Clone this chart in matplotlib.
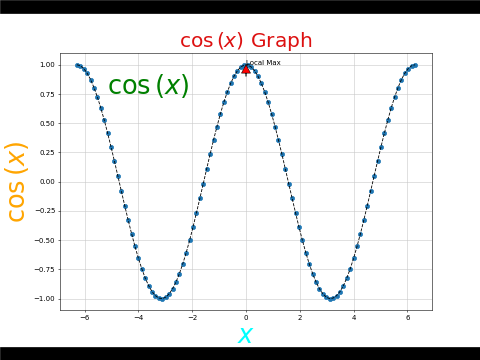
import matplotlib
matplotlib.use("Agg")
import matplotlib.pyplot as plt
from matplotlib.patches import Rectangle

x = [-6.283, -6.156, -6.029, -5.902, -5.775, -5.649, -5.522, -5.395, -5.268, -5.141,
     -5.014, -4.887, -4.760, -4.633, -4.506, -4.379, -4.252, -4.125, -3.998, -3.871,
     -3.745, -3.618, -3.491, -3.364, -3.237, -3.110, -2.983, -2.856, -2.729, -2.602,
     -2.475, -2.348, -2.221, -2.094, -1.967, -1.841, -1.714, -1.587, -1.460, -1.333,
     -1.206, -1.079, -0.952, -0.825, -0.698, -0.571, -0.444, -0.317, -0.190, -0.063,
     0.063, 0.190, 0.317, 0.444, 0.571, 0.698, 0.825, 0.952, 1.079, 1.206,
     1.333, 1.460, 1.587, 1.714, 1.841, 1.967, 2.094, 2.221, 2.348, 2.475,
     2.602, 2.729, 2.856, 2.983, 3.110, 3.237, 3.364, 3.491, 3.618, 3.745,
     3.871, 3.998, 4.125, 4.252, 4.379, 4.506, 4.633, 4.760, 4.887, 5.014,
     5.141, 5.268, 5.395, 5.522, 5.649, 5.775, 5.902, 6.029, 6.156, 6.283]
y = [1.000, 0.992, 0.968, 0.928, 0.874, 0.805, 0.724, 0.631, 0.527, 0.415,
     0.297, 0.174, 0.048, -0.079, -0.205, -0.327, -0.444, -0.554, -0.655, -0.745,
     -0.824, -0.889, -0.940, -0.975, -0.995, -1.000, -0.987, -0.959, -0.916, -0.858,
     -0.786, -0.701, -0.606, -0.500, -0.386, -0.266, -0.142, -0.016, 0.111, 0.236,
     0.357, 0.472, 0.580, 0.679, 0.766, 0.841, 0.903, 0.950, 0.982, 0.998,
     0.998, 0.982, 0.950, 0.903, 0.841, 0.766, 0.679, 0.580, 0.472, 0.357,
     0.236, 0.111, -0.016, -0.142, -0.266, -0.386, -0.500, -0.606, -0.701, -0.786,
     -0.858, -0.916, -0.959, -0.987, -1.000, -0.995, -0.975, -0.940, -0.889, -0.824,
     -0.745, -0.655, -0.554, -0.444, -0.327, -0.205, -0.079, 0.048, 0.174, 0.297,
     0.415, 0.527, 0.631, 0.724, 0.805, 0.874, 0.928, 0.968, 0.992, 1.000]

max_x = 0
max_y = 1
max_label = "Local Max"

fig = plt.figure(figsize=(9.6, 7.2))
fig.subplots_adjust(left=0.125, right=0.9, bottom=0.138, top=0.8525)
ax = fig.add_subplot(111)

ax.plot(x, y, "o", color="#1f77b4", markersize=6)
ax.plot(x, y, "k--", linewidth=1.2)

ax.annotate("", xy=(max_x, max_y), xytext=(max_x, max_y - 0.1),
            arrowprops=dict(facecolor="red", edgecolor="black", width=0.01,
                            headwidth=13, headlength=12, shrink=0, linewidth=0.8))
ax.text(max_x, max_y, max_label, fontsize=10)
ax.text(-5.15, 0.75, r"$\cos\left(x\right)$", fontsize=37, color="green")

ax.set_title(r"$\cos\left(x\right)$ Graph", fontsize=29, color="#dd1111")
ax.set_xlabel(r"$x$", fontsize=37, color="cyan", labelpad=2)
ax.set_ylabel(r"$\cos\left(x\right)$", fontsize=37, color="orange", labelpad=4)
ax.grid(True, color="#c8c8c8")

# letterbox bars
fig.patches.append(Rectangle((0, 0), 1, 13 / 360, transform=fig.transFigure, color="black"))
fig.patches.append(Rectangle((0, 347 / 360), 1, 13 / 360, transform=fig.transFigure, color="black"))

fig.savefig("out.png", dpi=50)
